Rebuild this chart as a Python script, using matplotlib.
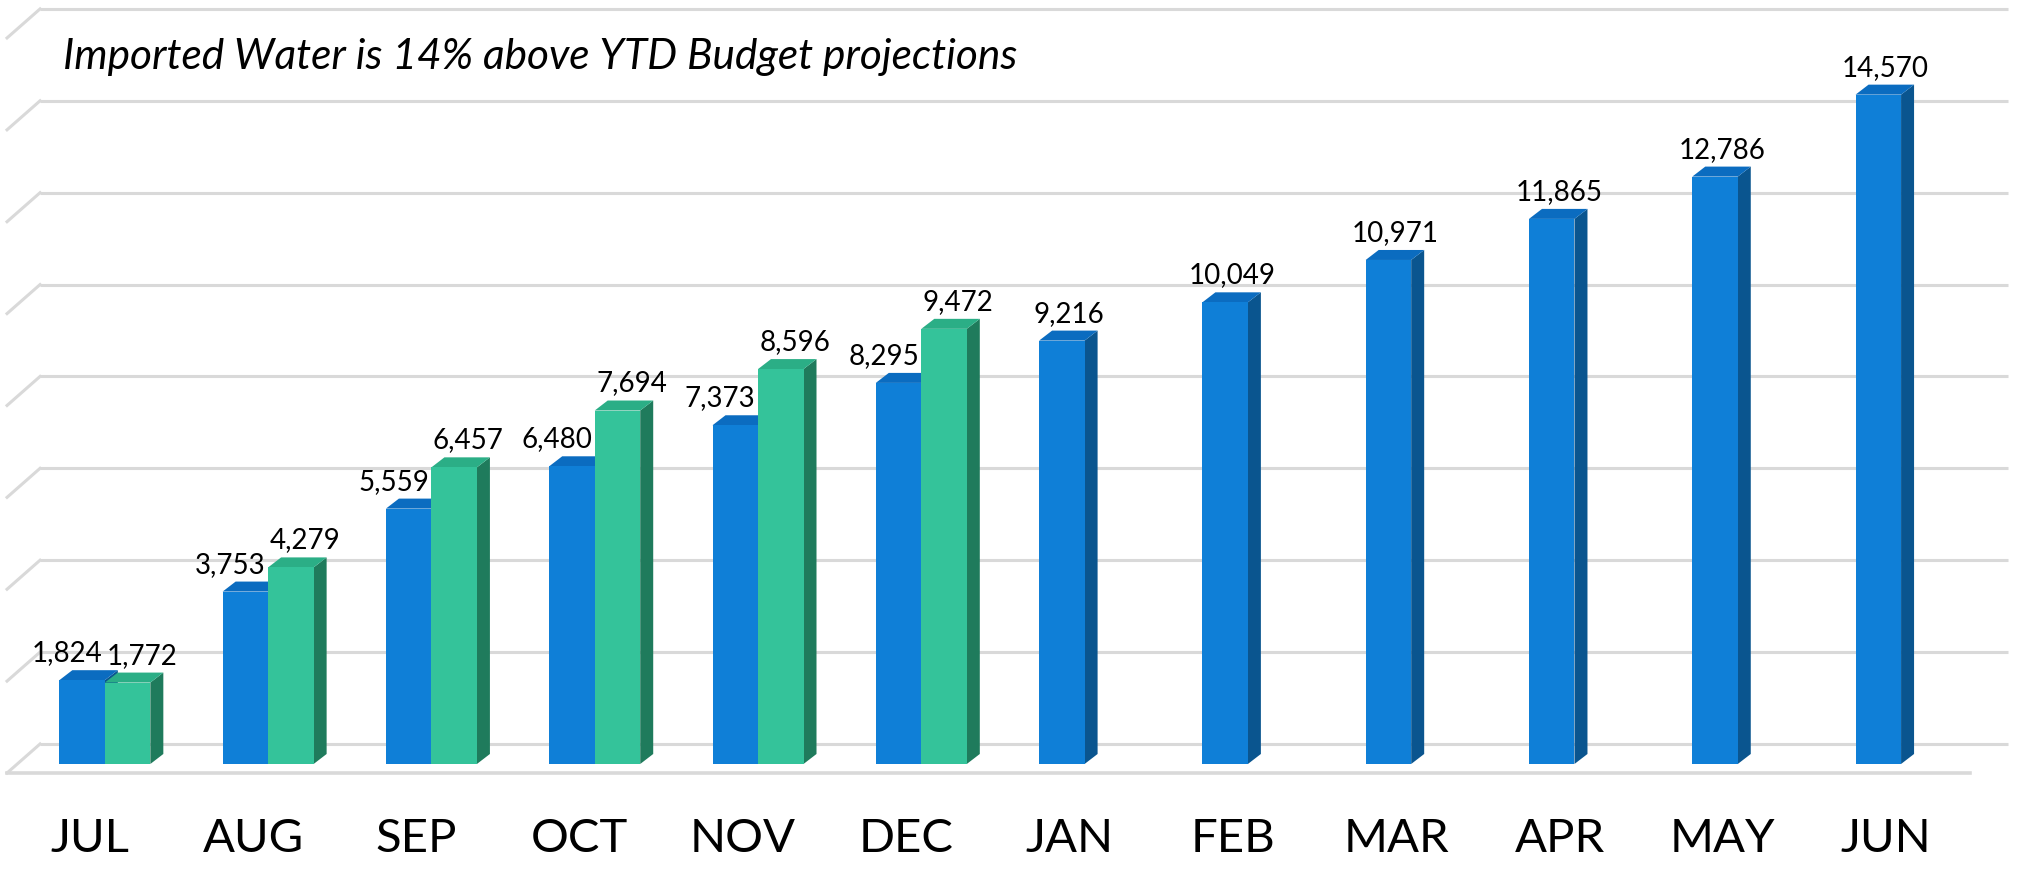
"""Imported water vs YTD budget, pseudo-3D clustered columns"""
import matplotlib
matplotlib.use('Agg')
import matplotlib.pyplot as plt
from matplotlib.patches import Polygon
import numpy as np

# data
months = ['JUL', 'AUG', 'SEP', 'OCT', 'NOV', 'DEC',
          'JAN', 'FEB', 'MAR', 'APR', 'MAY', 'JUN']
budget = [1824, 3753, 5559, 6480, 7373, 8295,
          9216, 10049, 10971, 11865, 12786, 14570]
actual = [1772, 4279, 6457, 7694, 8596, 9472]
yticks = [0, 2000, 4000, 6000, 8000, 10000, 12000, 14000, 16000]
title = 'Imported Water is 14% above YTD Budget projections'

# styles
font_family = ['Lato', 'DejaVu Sans']
blue = ('#0F7FD7', '#0B6CC0', '#0A558F')   # front, top, side
green = ('#34C39A', '#2BAE86', '#1F7B5C')
grid_color = '#D9D9D9'

W, H = 2017, 869
fig = plt.figure(figsize=(W / 100, H / 100), dpi=100)
ax = fig.add_axes([0, 0, 1, 1])
ax.set_xlim(-0.642, 11.710)
ax.set_ylim(-2286, 16630)
ax.axis('off')

# pixel -> data unit helpers (linear axes)
px_x = 163.3           # pixels per category
px_y = 0.04594         # pixels per unit value


def ux(p):
    return p / px_x


def uy(p):
    return p / px_y


bar_w = ux(45.5)
dep_x, dep_y = ux(13), uy(10)          # bar depth
wall_x, wall_y = ux(22), uy(20)        # back wall offset from bar front plane
side_x, side_y = ux(33), uy(29)        # floor depth
wall_left, wall_right = ux(40 - 104.8), ux(2008 - 104.8)
floor_right = ux(1970 - 104.8)

# back wall gridlines + left wall slanted lines
for v in yticks:
    yb = v + wall_y
    ax.plot([wall_left, wall_right], [yb, yb], color=grid_color, lw=2.2,
            zorder=1, solid_capstyle='butt')
    ax.plot([wall_left - side_x, wall_left], [yb - side_y, yb],
            color=grid_color, lw=2.2, zorder=1)
# floor front edge
fy = wall_y - side_y
ax.plot([wall_left - side_x, floor_right], [fy, fy], color=grid_color,
        lw=2.6, zorder=1)


def draw_bar(x0, h, colors, z):
    x1 = x0 + bar_w
    side = Polygon([(x1, 0), (x1, h), (x1 + dep_x, h + dep_y),
                    (x1 + dep_x, dep_y)], closed=True, fc=colors[2],
                   ec='none', zorder=z)
    top = Polygon([(x0, h), (x1, h), (x1 + dep_x, h + dep_y),
                   (x0 + dep_x, h + dep_y)], closed=True, fc=colors[1],
                  ec='none', zorder=z)
    ax.add_patch(side)
    ax.add_patch(top)
    ax.bar(x0, h, width=bar_w, align='edge', color=colors[0], zorder=z,
           linewidth=0)


x = np.arange(len(months))
for i, v in enumerate(budget):
    draw_bar(x[i] - bar_w, v, blue, 3)
for i, v in enumerate(actual):
    draw_bar(x[i], v, green, 4)

# value labels
lbl_size = 20
for i, v in enumerate(budget):
    off = -15 if i < len(actual) else 7
    ax.annotate(f'{v:,}', xy=(x[i] - bar_w / 2, v), xytext=(off, 19),
                textcoords='offset pixels', ha='center', va='baseline',
                fontsize=lbl_size, family=font_family, zorder=6)
for i, v in enumerate(actual):
    ax.annotate(f'{v:,}', xy=(x[i] + bar_w / 2, v), xytext=(14, 19),
                textcoords='offset pixels', ha='center', va='baseline',
                fontsize=lbl_size, family=font_family, zorder=6)

# category labels
for i, m in enumerate(months):
    ax.text(x[i] - ux(15), uy(764 - 852), m, ha='center', va='baseline',
            fontsize=34, family=font_family)

fig.text(63 / W, 1 - 69 / H, title, ha='left', va='baseline',
         fontsize=30.5, style='italic', family=font_family)

plt.savefig('out.png', dpi=100)
